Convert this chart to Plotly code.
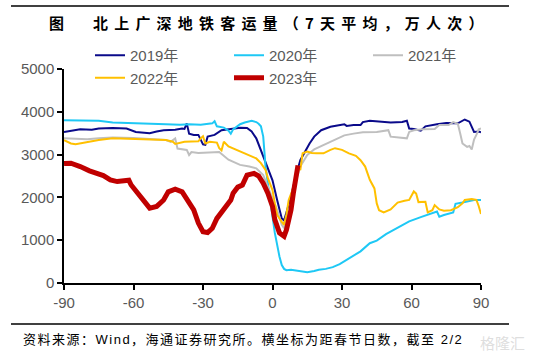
import plotly.graph_objects as go

# ---- data (days from Spring Festival, 10k passengers, 7-day avg) ----
d2019 = [-90,-86,-83,-78,-75,-69,-63,-59,-53,-50,-47,-42,-39,-38,-37,-36,-34,-32,-31,-30,-29,-28,-25,-22,-18,-14,-11,-9,-7,-5,-3,0,2,4,5,6,8,10,12,16,18,21,25,28,31,32,35,38,39,42,45,51,56,58,59,61,64,66,71,75,80,82,83,85,86,87,89,90]
v2019 = [3530,3570,3590,3580,3610,3620,3610,3530,3500,3540,3570,3580,3610,3600,3730,3490,3460,3460,3340,3240,3230,3420,3460,3570,3600,3630,3620,3540,3380,3110,2800,2400,1940,1510,1460,1630,2020,2480,2870,3260,3420,3570,3650,3680,3710,3670,3690,3690,3760,3790,3780,3750,3760,3790,3610,3600,3560,3660,3710,3740,3730,3800,3820,3770,3650,3530,3540,3520]

d2020 = [-90,-80,-75,-69,-60,-50,-46,-40,-36,-31,-28,-26,-25,-24,-21,-19,-18,-17,-14,-12,-9,-7,-6,-5,-4,-3,-1,1,3,4,5,6,8,11,15,18,20,23,26,29,32,35,38,42,45,49,55,59,64,68,71,72,74,78,79,82,87,90]
v2020 = [3800,3790,3790,3750,3740,3720,3710,3700,3710,3700,3720,3730,3780,3660,3630,3560,3490,3590,3710,3750,3790,3760,3720,3660,3420,2720,1940,1170,620,420,330,300,310,280,250,280,310,330,370,440,540,660,740,930,990,1140,1320,1440,1540,1620,1670,1550,1590,1650,1850,1880,1940,1940]

d2021 = [-90,-85,-80,-75,-69,-60,-52,-46,-44,-43,-42,-41,-39,-37,-36,-35,-32,-26,-23,-19,-14,-10,-7,-4,-1,2,4,5,6,8,10,12,15,18,21,25,28,31,35,39,45,50,51,55,58,59,61,65,70,72,76,78,80,81,82,84,85,86,87,88,89,90]
v2021 = [3380,3370,3360,3380,3400,3390,3370,3340,3300,3330,3380,3140,3120,3110,2990,3060,3040,3060,3060,2880,2760,2720,2680,2520,2100,1710,1360,1280,1470,1860,2370,2720,2990,3120,3200,3300,3380,3450,3490,3520,3530,3570,3420,3400,3380,3530,3570,3590,3600,3690,3690,3760,3720,3500,3260,3180,3200,3120,3350,3460,3590,3610]

d2022 = [-90,-87,-85,-80,-75,-69,-60,-52,-46,-43,-42,-38,-35,-32,-31,-30,-29,-27,-24,-23,-22,-21,-19,-14,-10,-7,-5,-3,-2,0,1,2,4,5,6,7,10,11,12,13,15,17,19,22,25,27,30,33,36,38,40,41,42,44,45,46,48,51,54,57,59,61,62,63,66,67,69,70,72,74,77,80,82,83,86,88,89,90]
v2022 = [3340,3260,3240,3290,3340,3380,3360,3350,3340,3300,3250,3300,3300,3310,3380,3430,3260,3300,3280,3150,3100,3300,3190,3070,2990,2910,2800,2640,2450,2170,1860,1590,1430,1360,1600,1940,2370,2720,2640,3030,3070,3040,3030,3030,3110,3150,3110,3030,2970,2870,2720,2560,2410,2210,1860,1700,1650,1720,1880,1920,1940,2140,2090,1890,1900,1650,1700,1820,1720,1690,1700,1770,1860,1940,1960,1940,1800,1610]

d2023 = [-90,-87,-83,-79,-73,-70,-67,-65,-62,-61,-57,-53,-50,-47,-45,-42,-39,-37,-34,-32,-30,-28,-26,-24,-21,-20,-18,-17,-15,-13,-12,-11,-8,-6,-4,-2,0,1,3,5,6,8,9,10,11]
v2023 = [2790,2800,2720,2620,2510,2410,2370,2390,2400,2290,2020,1750,1790,1940,2130,2190,2130,1940,1710,1400,1200,1180,1280,1510,1750,1790,1940,2100,2240,2290,2410,2520,2560,2500,2330,2100,1790,1480,1170,1090,1240,1710,2100,2480,2750]

x_ticks = [-90, -60, -30, 0, 30, 60, 90]
y_ticks = [0, 1000, 2000, 3000, 4000, 5000]

series = [
    ("2019年", d2019, v2019, "#0A0A8A", 2),
    ("2020年", d2020, v2020, "#1EC8F5", 2),
    ("2021年", d2021, v2021, "#BFBFBF", 2),
    ("2022年", d2022, v2022, "#FFC000", 2),
    ("2023年", d2023, v2023, "#C00000", 5),
]

W, H = 536, 361
L, R, T, B = 64, 55, 69, 78
pw, ph = W - L - R, H - T - B

def px(x):
    return (x - L) / pw

def py(y):
    return (H - B - y) / ph

fig = go.Figure()
for name, d, v, c, w in series:
    fig.add_trace(go.Scatter(x=d, y=v, mode="lines", name=name,
                             line=dict(color=c, width=w)))

tick_font = dict(family="Liberation Sans, Arial, Noto Sans CJK SC", size=15, color="#595959")

fig.update_layout(
    width=W, height=H,
    margin=dict(l=L, r=R, t=T, b=B),
    plot_bgcolor="white", paper_bgcolor="white",
    showlegend=True,
    legend=dict(orientation="h", x=px(90), xanchor="left", y=py(39), yanchor="top",
                entrywidth=94, entrywidthmode="pixels",
                font=dict(family="Liberation Sans, Arial, Noto Sans CJK SC", size=15, color="#595959"),
                bgcolor="rgba(0,0,0,0)", tracegroupgap=0),
    xaxis=dict(range=[-90, 90], tickvals=x_ticks, ticktext=[str(t) for t in x_ticks],
               showgrid=False, zeroline=False, showline=True, linecolor="black", linewidth=1.5,
               ticks="outside", ticklen=5, tickcolor="black", tickwidth=1.5, tickfont=tick_font),
    yaxis=dict(range=[0, 5000], tickvals=y_ticks, ticktext=[str(t) for t in y_ticks],
               showgrid=False, zeroline=False, showline=True, linecolor="black", linewidth=1.5,
               ticks="outside", ticklen=5, tickcolor="black", tickwidth=1.5, tickfont=tick_font),
)

# header / footer rules
for yy in (6, 324):
    fig.add_shape(type="line", xref="paper", yref="paper", x0=px(11), x1=px(509),
                  y0=py(yy), y1=py(yy), line=dict(color="black", width=1.5))

title_font = dict(family="Noto Sans CJK SC", size=15, color="black")
fig.add_annotation(xref="paper", yref="paper", x=px(47), y=py(22), xanchor="left", yanchor="middle",
                   text="<b>图</b>", showarrow=False, font=title_font)
fig.add_annotation(xref="paper", yref="paper", x=px(91), y=py(22), xanchor="left", yanchor="middle",
                   text='<span style="letter-spacing:6.2px"><b>北上广深地铁客运量（7天平均，万人次）</b></span>',
                   showarrow=False, font=title_font)
fig.add_annotation(xref="paper", yref="paper", x=px(21), y=py(339), xanchor="left", yanchor="middle",
                   text='<span style="letter-spacing:1.5px">资料来源：Wind，海通证券研究所。横坐标为距春节日数，截至 2/2</span>',
                   showarrow=False, font=dict(family="Liberation Sans, Noto Sans CJK SC", size=13, color="black"))
fig.add_annotation(xref="paper", yref="paper", x=px(503), y=py(342), xanchor="center", yanchor="middle",
                   text="格隆汇", showarrow=False,
                   font=dict(family="Noto Sans CJK SC", size=15, color="rgba(200,200,200,0.6)"))

fig.write_html("out.html", config={"displayModeBar": False},
               post_script="document.body.style.margin='0';document.body.style.padding='0';")
